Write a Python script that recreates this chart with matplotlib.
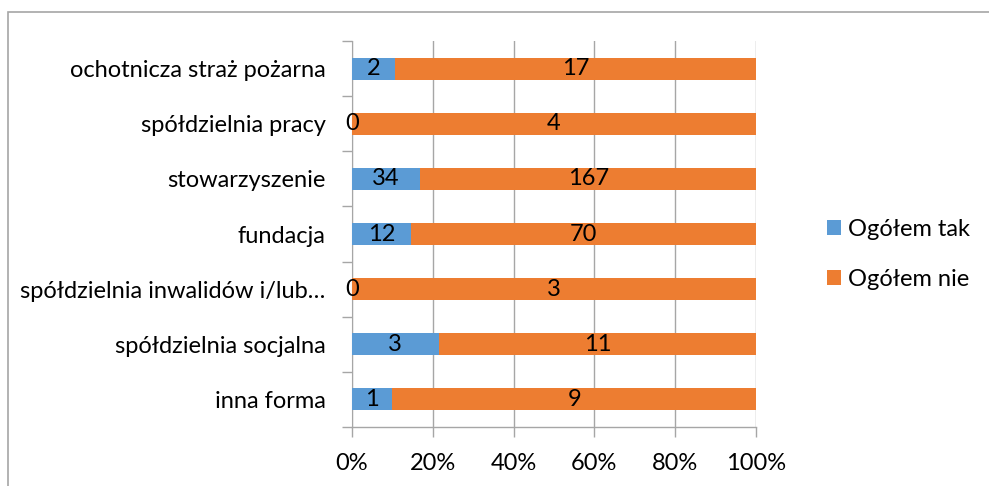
import matplotlib
matplotlib.use("Agg")
import matplotlib.pyplot as plt
from matplotlib.patches import Rectangle
import numpy as np

categories = ["ochotnicza straż pożarna", "spółdzielnia pracy", "stowarzyszenie",
              "fundacja", "spółdzielnia inwalidów i/lub…", "spółdzielnia socjalna", "inna forma"]
tak = [2, 0, 34, 12, 0, 3, 1]
nie = [17, 4, 167, 70, 3, 11, 9]
series_names = ["Ogółem tak", "Ogółem nie"]
xticks = [0, 20, 40, 60, 80, 100]
xticklabels = ["0%", "20%", "40%", "60%", "80%", "100%"]

plt.rcParams['font.family'] = ['Lato', 'DejaVu Sans']
FS = 17
W, H = 989, 486
fig = plt.figure(figsize=(W/100, H/100), dpi=100)
fig.patches.append(Rectangle((8/W, -0.1), 1.2, 1 - 12/H + 0.1, transform=fig.transFigure,
                             fill=False, edgecolor='#A6A6A6', linewidth=1.2))
ax = fig.add_axes([352/W, 1 - 427/H, (756-352)/W, (427-41)/H])

tak_a = np.array(tak, float); nie_a = np.array(nie, float)
tot = tak_a + nie_a
tp = tak_a / tot * 100; npc = nie_a / tot * 100
y = np.arange(len(categories))
blue, orange = '#5B9BD5', '#ED7D31'
b1 = ax.barh(y, tp, height=0.4, color=blue, label=series_names[0], zorder=3)
b2 = ax.barh(y, npc, left=tp, height=0.4, color=orange, label=series_names[1], zorder=3)
for i in range(len(categories)):
    ax.text(tp[i]/2, y[i], str(tak[i]), ha='center', va='center', fontsize=FS, zorder=4)
    ax.text(tp[i] + npc[i]/2, y[i], str(nie[i]), ha='center', va='center', fontsize=FS, zorder=4)

ax.set_xlim(0, 100)
ax.set_ylim(len(categories) - 0.5, -0.5)
ax.set_xticks(xticks)
ax.set_xticklabels(xticklabels, fontsize=FS)
ax.set_yticks(y)
ax.set_yticklabels(categories, fontsize=FS)
ax.tick_params(axis='y', length=0, pad=19)
ax.set_yticks(np.arange(len(categories)+1) - 0.5, minor=True)
ax.tick_params(axis='y', which='minor', length=7, color='#A6A6A6', width=1)
ax.tick_params(axis='x', length=7, color='#A6A6A6', width=1, pad=12)
ax.grid(axis='x', color='#A6A6A6', linewidth=1, zorder=0)
for s in ['top', 'right', 'bottom']:
    ax.spines[s].set_visible(False)
ax.spines['left'].set_color('#A6A6A6')
ax.axhline(len(categories) - 0.5, color='#A6A6A6', linewidth=1, zorder=1, clip_on=False)

leg = fig.legend(handles=[b1, b2], labels=series_names, loc='upper left',
                 bbox_to_anchor=(806/W, 1 - 198/H), frameon=False, fontsize=FS,
                 handlelength=0.6, handleheight=0.6, handletextpad=0.3, labelspacing=1.2)
fig.savefig("out.png", dpi=100)
